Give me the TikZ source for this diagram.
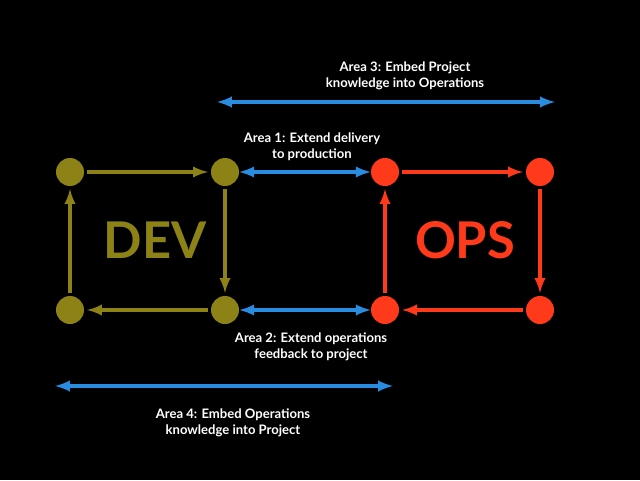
\documentclass[tikz,border=0pt]{standalone}
\usepackage{fontspec}
\setmainfont{Lato}
\usepackage{xcolor}
\usetikzlibrary{arrows}
\usetikzlibrary{calc}
\usetikzlibrary{positioning}
\definecolor{devcol}{RGB}{140,130,22}
\definecolor{opscol}{RGB}{255,58,26}
\definecolor{areacol}{RGB}{40,140,225}

\begin{document}
\begin{tikzpicture}[
    dot/.style={circle, minimum size=0.7cm, inner sep=0pt},
    flow/.style={line width=2.6pt, -latex, shorten >=2pt, shorten <=2pt},
    area/.style={line width=2.6pt, areacol, latex-latex},
    label/.style={white, align=center, font=\fontsize{9.3}{11.4}\selectfont\bfseries},
    big/.style={font=\fontsize{36}{36}\selectfont\bfseries}
  ]
    \fill [black] (0,0) rectangle (16,12);
    \useasboundingbox (0,0) rectangle (16,12);

    \node [dot, fill=devcol] (d1) at (1.75, 7.7) {};
    \node [dot, fill=devcol] (d2) at (5.625, 7.7) {};
    \node [dot, fill=devcol] (d3) at (5.625, 4.25) {};
    \node [dot, fill=devcol] (d4) at (1.75, 4.25) {};
    \node [dot, fill=opscol] (o1) at (9.625, 7.7) {};
    \node [dot, fill=opscol] (o2) at (13.5, 7.7) {};
    \node [dot, fill=opscol] (o3) at (13.5, 4.25) {};
    \node [dot, fill=opscol] (o4) at (9.625, 4.25) {};

    \node [big, devcol] (dev) at (3.875, 6.0) {DEV};
    \node [big, opscol] (ops) at (11.625, 6.0) {OPS};

    \draw [flow, devcol] (d1) -- (d2);
    \draw [flow, devcol] (d2) -- (d3);
    \draw [flow, devcol] (d3) -- (d4);
    \draw [flow, devcol] (d4) -- (d1);
    \draw [flow, opscol] (o1) -- (o2);
    \draw [flow, opscol] (o2) -- (o3);
    \draw [flow, opscol] (o3) -- (o4);
    \draw [flow, opscol] (o4) -- (o1);

    \draw [area] (d2) -- (o1);
    \draw [area] (d3) -- (o4);

    \coordinate (a3l) at (5.425, 9.45);
    \coordinate (a3r) at (13.875, 9.45);
    \coordinate (a4l) at (1.375, 2.35);
    \coordinate (a4r) at (9.825, 2.35);
    \draw [area] (a3l) -- (a3r);
    \draw [area] (a4l) -- (a4r);

    \node [label] (t3) at (10.125, 10.1) {Area 3: Embed Project\\knowledge into Operations};
    \node [label] (t1) at (7.8, 8.325) {Area 1: Extend delivery\\to production};
    \node [label] (t2) at (7.775, 3.325) {Area 2: Extend operations\\feedback to project};
    \node [label] (t4) at (5.825, 1.425) {Area 4: Embed Operations\\knowledge into Project};
  \end{tikzpicture}
\end{document}
